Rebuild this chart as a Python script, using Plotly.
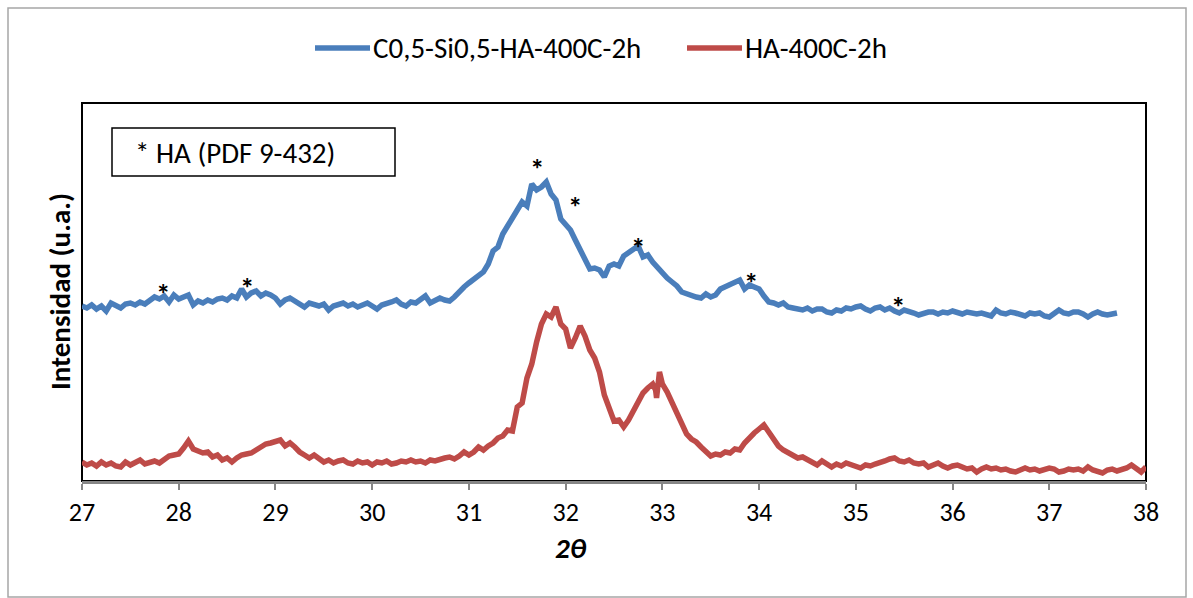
import plotly.graph_objects as go

# ---------------- data ----------------
two_theta_c = [27.00, 27.05, 27.10, 27.15, 27.20, 27.25, 27.30, 27.35, 27.40, 27.45,
               27.50, 27.55, 27.60, 27.65, 27.70, 27.75, 27.80, 27.85, 27.90, 27.95,
               28.00, 28.05, 28.10, 28.15, 28.20, 28.25, 28.30, 28.35, 28.40, 28.45,
               28.50, 28.55, 28.60, 28.65, 28.70, 28.75, 28.80, 28.85, 28.90, 28.95,
               29.00, 29.05, 29.10, 29.15, 29.20, 29.25, 29.30, 29.35, 29.40, 29.45,
               29.50, 29.55, 29.60, 29.65, 29.70, 29.75, 29.80, 29.85, 29.90, 29.95,
               30.00, 30.05, 30.10, 30.15, 30.20, 30.25, 30.30, 30.35, 30.40, 30.45,
               30.50, 30.55, 30.60, 30.65, 30.70, 30.75, 30.80, 30.85, 30.90, 30.95,
               31.00, 31.05, 31.10, 31.15, 31.20, 31.25, 31.30, 31.35, 31.40, 31.45,
               31.50, 31.55, 31.60, 31.65, 31.70, 31.75, 31.80, 31.85, 31.90, 31.95,
               32.00, 32.05, 32.10, 32.15, 32.20, 32.25, 32.30, 32.35, 32.40, 32.45,
               32.50, 32.55, 32.60, 32.65, 32.70, 32.75, 32.80, 32.85, 32.90, 32.95,
               33.00, 33.05, 33.10, 33.15, 33.20, 33.25, 33.30, 33.35, 33.40, 33.45,
               33.50, 33.55, 33.60, 33.65, 33.70, 33.75, 33.80, 33.85, 33.90, 33.95,
               34.00, 34.05, 34.10, 34.15, 34.20, 34.25, 34.30, 34.35, 34.40, 34.45,
               34.50, 34.55, 34.60, 34.65, 34.70, 34.75, 34.80, 34.85, 34.90, 34.95,
               35.00, 35.05, 35.10, 35.15, 35.20, 35.25, 35.30, 35.35, 35.40, 35.45,
               35.50, 35.55, 35.60, 35.65, 35.70, 35.75, 35.80, 35.85, 35.90, 35.95,
               36.00, 36.05, 36.10, 36.15, 36.20, 36.25, 36.30, 36.35, 36.40, 36.45,
               36.50, 36.55, 36.60, 36.65, 36.70, 36.75, 36.80, 36.85, 36.90, 36.95,
               37.00, 37.05, 37.10, 37.15, 37.20, 37.25, 37.30, 37.35, 37.40, 37.45,
               37.50, 37.55, 37.60, 37.65, 37.70]
int_c = [175, 173, 176, 172, 175, 170, 178, 176, 173, 177,
         178, 176, 179, 177, 180, 184, 182, 185, 179, 186,
         182, 184, 186, 176, 180, 178, 181, 179, 182, 183,
         181, 185, 183, 192, 184, 188, 190, 185, 188, 186,
         183, 177, 181, 183, 180, 176, 174, 178, 177, 175,
         177, 171, 175, 176, 178, 175, 177, 174, 176, 178,
         175, 172, 176, 177, 179, 181, 177, 175, 179, 178,
         181, 185, 178, 181, 183, 181, 180, 184, 190, 194,
         198, 202, 205, 209, 217, 230, 234, 247, 255, 264,
         271, 279, 275, 297, 291, 294, 299, 287, 281, 262,
         257, 251, 241, 231, 219, 212, 213, 211, 204, 215,
         217, 215, 225, 228, 231, 235, 224, 226, 219, 213,
         207, 203, 199, 195, 189, 187, 185, 184, 183, 187,
         184, 186, 192, 194, 197, 199, 201, 192, 196, 194,
         192, 185, 179, 178, 176, 178, 174, 173, 172, 171,
         173, 170, 172, 172, 169, 168, 171, 170, 173, 172,
         174, 175, 172, 170, 173, 174, 171, 173, 170, 168,
         171, 170, 168, 166, 168, 169, 169, 167, 169, 168,
         170, 169, 167, 169, 168, 167, 168, 166, 165, 171,
         168, 167, 169, 168, 166, 165, 168, 167, 168, 165,
         164, 167, 171, 168, 167, 169, 169, 167, 164, 167,
         169, 167, 166, 167, 168]

two_theta_ha = [27.00, 27.05, 27.10, 27.15, 27.20, 27.25, 27.30, 27.35, 27.40, 27.45,
                27.50, 27.55, 27.60, 27.65, 27.70, 27.75, 27.80, 27.85, 27.90, 27.95,
                28.00, 28.05, 28.10, 28.15, 28.20, 28.25, 28.30, 28.35, 28.40, 28.45,
                28.50, 28.55, 28.60, 28.65, 28.70, 28.75, 28.80, 28.85, 28.90, 28.95,
                29.00, 29.05, 29.10, 29.15, 29.20, 29.25, 29.30, 29.35, 29.40, 29.45,
                29.50, 29.55, 29.60, 29.65, 29.70, 29.75, 29.80, 29.85, 29.90, 29.95,
                30.00, 30.05, 30.10, 30.15, 30.20, 30.25, 30.30, 30.35, 30.40, 30.45,
                30.50, 30.55, 30.60, 30.65, 30.70, 30.75, 30.80, 30.85, 30.90, 30.95,
                31.00, 31.05, 31.10, 31.15, 31.20, 31.25, 31.30, 31.35, 31.40, 31.45,
                31.50, 31.55, 31.60, 31.65, 31.70, 31.75, 31.80, 31.85, 31.90, 31.95,
                32.00, 32.05, 32.10, 32.15, 32.20, 32.25, 32.30, 32.35, 32.40, 32.45,
                32.50, 32.55, 32.60, 32.65, 32.70, 32.75, 32.80, 32.85, 32.90, 32.93,
                32.94, 32.97, 33.00, 33.05, 33.10, 33.15, 33.20, 33.25, 33.30, 33.35,
                33.40, 33.45, 33.50, 33.55, 33.60, 33.65, 33.70, 33.75, 33.80, 33.85,
                33.90, 33.95, 34.00, 34.05, 34.10, 34.15, 34.20, 34.25, 34.30, 34.35,
                34.40, 34.45, 34.50, 34.55, 34.60, 34.65, 34.70, 34.75, 34.80, 34.85,
                34.90, 34.95, 35.00, 35.05, 35.10, 35.15, 35.20, 35.25, 35.30, 35.35,
                35.40, 35.45, 35.50, 35.55, 35.60, 35.65, 35.70, 35.75, 35.80, 35.85,
                35.90, 35.95, 36.00, 36.05, 36.10, 36.15, 36.20, 36.25, 36.30, 36.35,
                36.40, 36.45, 36.50, 36.55, 36.60, 36.65, 36.70, 36.75, 36.80, 36.85,
                36.90, 36.95, 37.00, 37.05, 37.10, 37.15, 37.20, 37.25, 37.30, 37.35,
                37.40, 37.45, 37.50, 37.55, 37.60, 37.65, 37.70, 37.75, 37.80, 37.85,
                37.90, 37.95, 38.00]
int_ha = [19, 16, 18, 15, 19, 16, 18, 15, 14, 19,
          16, 18, 21, 17, 19, 20, 18, 21, 25, 26,
          27, 33, 40, 32, 30, 28, 29, 24, 26, 21,
          23, 19, 23, 26, 27, 28, 31, 34, 37, 38,
          40, 41, 35, 38, 34, 29, 26, 23, 26, 22,
          19, 21, 18, 20, 21, 18, 17, 20, 18, 19,
          16, 19, 18, 20, 17, 18, 20, 19, 21, 19,
          20, 18, 21, 20, 22, 23, 24, 22, 25, 29,
          26, 29, 34, 31, 35, 38, 43, 45, 51, 50,
          74, 78, 103, 117, 139, 157, 167, 164, 174, 157,
          152, 133, 143, 155, 145, 131, 123, 109, 86, 71,
          60, 61, 54, 61, 71, 81, 88, 93, 97, 91,
          83, 109, 97, 89, 78, 68, 58, 47, 42, 39,
          34, 30, 25, 27, 26, 29, 28, 32, 31, 38,
          44, 48, 52, 56, 49, 41, 35, 31, 28, 26,
          23, 24, 21, 19, 16, 20, 17, 14, 17, 15,
          18, 16, 14, 13, 16, 15, 17, 18, 20, 22,
          23, 20, 19, 21, 18, 17, 18, 14, 16, 18,
          15, 13, 15, 16, 14, 12, 13, 9, 12, 14,
          12, 13, 11, 12, 10, 9, 11, 13, 11, 12,
          10, 11, 13, 12, 9, 10, 12, 11, 12, 10,
          14, 11, 9, 8, 11, 12, 10, 11, 13, 16,
          12, 9, 14]

series_names = ["C0,5-Si0,5-HA-400C-2h", "HA-400C-2h"]
series_colors = ["#4A7EBB", "#BE4B48"]

# HA reflections marked with "*" on the top pattern (2θ, intensity of the mark)
ha_mark_x = [27.84, 28.71, 31.70, 32.10, 32.75, 33.92, 35.44]
ha_mark_y = [194, 200, 319, 281, 240, 205, 181]

x_ticks = [27, 28, 29, 30, 31, 32, 33, 34, 35, 36, 37, 38]

FONT = "Carlito, Calibri, Lato, sans-serif"

# ---------------- figure ----------------
W, H = 1193, 598
L, R, T, B = 82, 47, 103, 117
pw, ph = W - L - R, H - T - B


def px(xp):
    return (xp - L) / pw


def py(yp):
    return (H - B - yp) / ph


fig = go.Figure()
fig.add_trace(go.Scatter(x=two_theta_c, y=int_c, mode="lines", name=series_names[0],
                         line=dict(color=series_colors[0], width=5.5), showlegend=False))
fig.add_trace(go.Scatter(x=two_theta_ha, y=int_ha, mode="lines", name=series_names[1],
                         line=dict(color=series_colors[1], width=5.5), showlegend=False))

annotations = []
for mx, my in zip(ha_mark_x, ha_mark_y):
    annotations.append(dict(x=mx, y=my, xref="x", yref="y", text="<b>*</b>", showarrow=False,
                            font=dict(family=FONT, size=29, color="black"),
                            xanchor="center", yanchor="middle", yshift=-7))

# axis titles
annotations.append(dict(x=px(60), y=0.5, xref="paper", yref="paper",
                        text="<b>Intensidad (u.a.)</b>", textangle=-90, showarrow=False,
                        font=dict(family=FONT, size=29, color="black"),
                        xanchor="center", yanchor="middle"))
annotations.append(dict(x=px(571), y=py(548), xref="paper", yref="paper",
                        text="<b><i>2θ</i></b>", showarrow=False,
                        font=dict(family=FONT, size=29, color="black"),
                        xanchor="center", yanchor="middle"))
# boxed note
annotations.append(dict(x=px(133), y=py(153), xref="paper", yref="paper",
                        text="* HA (PDF 9-432)", showarrow=False,
                        font=dict(family=FONT, size=29, color="black"),
                        xanchor="left", yanchor="middle"))

# legend (manual)
shapes = []
leg = [(315, 370, 371), (687, 742, 743)]
for (x0, x1, xt), name, col in zip(leg, series_names, series_colors):
    shapes.append(dict(type="line", xref="paper", yref="paper", x0=px(x0), x1=px(x1),
                       y0=py(48), y1=py(48), line=dict(color=col, width=5.5)))
    annotations.append(dict(x=px(xt), y=py(48), xref="paper", yref="paper", text=name,
                            showarrow=False, font=dict(family=FONT, size=29, color="black"),
                            xanchor="left", yanchor="middle"))

# plot frame, note box, outer border
shapes.append(dict(type="rect", xref="paper", yref="paper", x0=0, x1=1, y0=0, y1=1,
                   line=dict(color="black", width=2), layer="below"))
shapes.append(dict(type="rect", xref="paper", yref="paper", x0=px(112), x1=px(395),
                   y0=py(176), y1=py(128), line=dict(color="black", width=1.5),
                   fillcolor="white", layer="below"))
shapes.append(dict(type="rect", xref="paper", yref="paper", x0=px(8), x1=px(1186),
                   y0=py(597), y1=py(8), line=dict(color="#A6A6A6", width=1.5),
                   layer="below"))

fig.update_layout(
    width=W, height=H,
    margin=dict(l=L, r=R, t=T, b=B),
    paper_bgcolor="white", plot_bgcolor="white",
    font=dict(family=FONT, color="black"),
    annotations=annotations, shapes=shapes,
    showlegend=False,
    xaxis=dict(range=[27, 38], tickvals=x_ticks, ticks="outside", ticklen=6,
               tickwidth=2, tickcolor="#868686", showline=True, linecolor="#868686",
               linewidth=2.5, showgrid=False, zeroline=False,
               tickfont=dict(family=FONT, size=26, color="black")),
    yaxis=dict(range=[0, 378], showticklabels=False, ticks="", showgrid=False,
               zeroline=False, showline=False),
)

fig.write_html("out.html")
